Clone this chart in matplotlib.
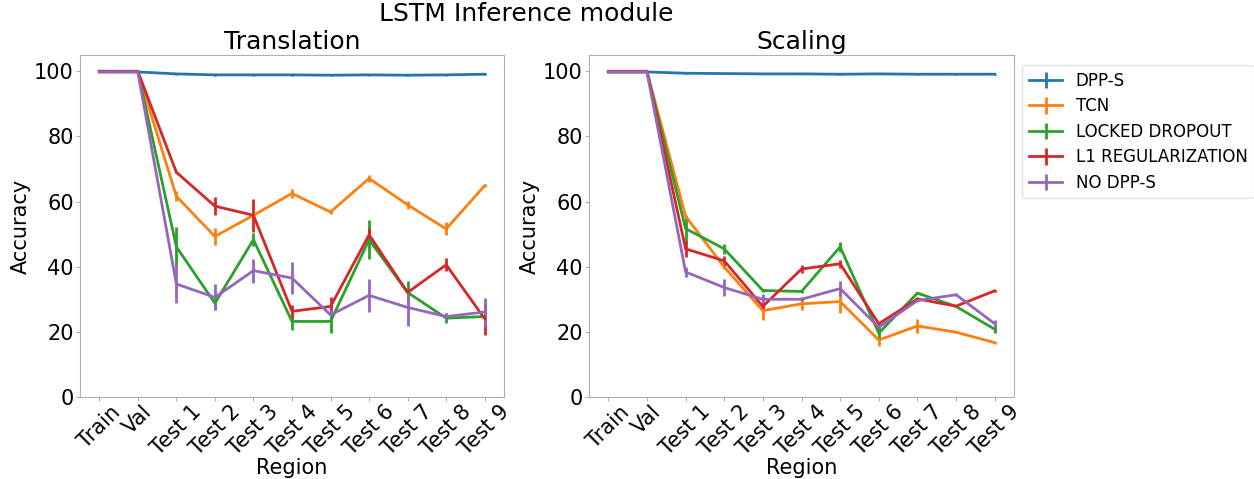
import numpy as np
import matplotlib
matplotlib.use("Agg")
import matplotlib.pyplot as plt

regions = ["Train", "Val", "Test 1", "Test 2", "Test 3", "Test 4", "Test 5",
           "Test 6", "Test 7", "Test 8", "Test 9"]
methods = ["DPP-S", "TCN", "LOCKED DROPOUT", "L1 REGULARIZATION", "NO DPP-S"]
colors = ["#1f77b4", "#ff7f0e", "#2ca02c", "#d62728", "#9467bd"]

# Translation: mean accuracy and spread per region
trans_dpps = [99.8, 99.8, 99.2, 98.9, 98.9, 98.9, 98.8, 98.9, 98.8, 98.9, 99.1]
trans_dpps_err = [0.1, 0.1, 0.2, 0.2, 0.2, 0.2, 0.2, 0.2, 0.2, 0.2, 0.3]
trans_tcn = [100.0, 99.9, 61.6, 49.3, 55.8, 62.5, 56.8, 67.1, 59.0, 51.6, 64.9]
trans_tcn_err = [0.0, 0.1, 1.5, 2.5, 0.5, 1.5, 0.5, 1.0, 1.2, 2.0, 0.5]
trans_locked = [100.0, 100.0, 46.1, 28.8, 48.3, 23.2, 23.2, 48.3, 32.1, 24.2, 24.7]
trans_locked_err = [0.0, 0.1, 6.2, 2.0, 2.0, 2.5, 3.5, 6.0, 3.5, 1.5, 0.5]
trans_l1 = [100.0, 100.0, 69.0, 58.6, 55.8, 26.3, 27.8, 49.8, 32.1, 40.6, 24.0]
trans_l1_err = [0.0, 0.1, 0.3, 2.8, 5.0, 2.0, 3.0, 2.0, 0.5, 2.0, 5.0]
trans_nodpps = [99.8, 99.8, 34.7, 30.6, 38.8, 36.5, 25.2, 31.2, 27.5, 24.7, 26.1]
trans_nodpps_err = [0.1, 0.1, 5.7, 4.0, 3.7, 5.0, 1.5, 5.0, 5.6, 1.0, 4.2]

# Scaling: mean accuracy and spread per region
scale_dpps = [99.8, 99.8, 99.4, 99.3, 99.2, 99.2, 99.1, 99.2, 99.1, 99.1, 99.1]
scale_dpps_err = [0.1, 0.1, 0.1, 0.1, 0.1, 0.1, 0.1, 0.1, 0.1, 0.1, 0.1]
scale_tcn = [100.0, 100.0, 55.5, 39.9, 26.5, 28.6, 29.3, 17.5, 21.8, 19.9, 16.7]
scale_tcn_err = [0.0, 0.0, 0.5, 0.5, 2.8, 2.0, 3.5, 1.7, 2.3, 0.3, 0.3]
scale_locked = [99.8, 99.8, 51.7, 45.5, 32.7, 32.4, 46.1, 19.6, 31.9, 27.8, 20.8]
scale_locked_err = [0.1, 0.1, 4.0, 1.5, 0.5, 0.5, 1.5, 1.5, 0.3, 0.3, 1.0]
scale_l1 = [100.0, 100.0, 45.5, 41.8, 27.8, 39.3, 40.9, 22.5, 30.1, 27.9, 32.6]
scale_l1_err = [0.0, 0.0, 2.5, 1.5, 1.5, 1.3, 1.3, 0.5, 0.5, 0.3, 0.3]
scale_nodpps = [99.8, 99.8, 38.4, 33.6, 30.0, 30.0, 33.3, 21.4, 29.6, 31.4, 22.5]
scale_nodpps_err = [0.1, 0.1, 1.5, 2.5, 1.5, 0.5, 2.2, 0.5, 0.5, 0.5, 1.0]

panels = [
    ("Translation",
     [trans_dpps, trans_tcn, trans_locked, trans_l1, trans_nodpps],
     [trans_dpps_err, trans_tcn_err, trans_locked_err, trans_l1_err, trans_nodpps_err]),
    ("Scaling",
     [scale_dpps, scale_tcn, scale_locked, scale_l1, scale_nodpps],
     [scale_dpps_err, scale_tcn_err, scale_locked_err, scale_l1_err, scale_nodpps_err]),
]

W, H = 1254, 479
fig = plt.figure(figsize=(W / 100, H / 100), dpi=100)
ax_boxes = [[80 / W, 1 - 397 / H, 424 / W, 342 / H],
            [589 / W, 1 - 397 / H, 425 / W, 342 / H]]
x = np.arange(len(regions))
spine_col = "#b0b0b0"

for (title, series, errs), box in zip(panels, ax_boxes):
    ax = fig.add_axes(box)
    for name, col, vals, err in zip(methods, colors, series, errs):
        ax.errorbar(x, vals, yerr=err, color=col, label=name, linewidth=2,
                    elinewidth=2)
    ax.set_title(title, fontsize=18, pad=4)
    ax.set_xticks(x)
    ax.set_xticklabels(regions, rotation=45, fontsize=15)
    ax.set_ylim(0, 105)
    ax.set_yticks([0, 20, 40, 60, 80, 100])
    ax.tick_params(axis="y", labelsize=15)
    ax.tick_params(colors=spine_col, labelcolor="black", length=3, pad=1.5)
    ax.tick_params(axis="x", pad=0.5)
    ax.set_xlabel("Region", fontsize=15, labelpad=-1)
    ax.set_ylabel("Accuracy", fontsize=15, labelpad=2)
    for s in ax.spines.values():
        s.set_color(spine_col)
    last_ax = ax

last_ax.legend(loc="upper left", bbox_to_anchor=(1.0, 0.995), fontsize=12,
               frameon=True, edgecolor="#dddddd", labelspacing=0.45,
               handlelength=2.0)
fig.suptitle("LSTM Inference module", fontsize=18, x=0.42, y=0.995)
fig.savefig("out.png", dpi=100)
